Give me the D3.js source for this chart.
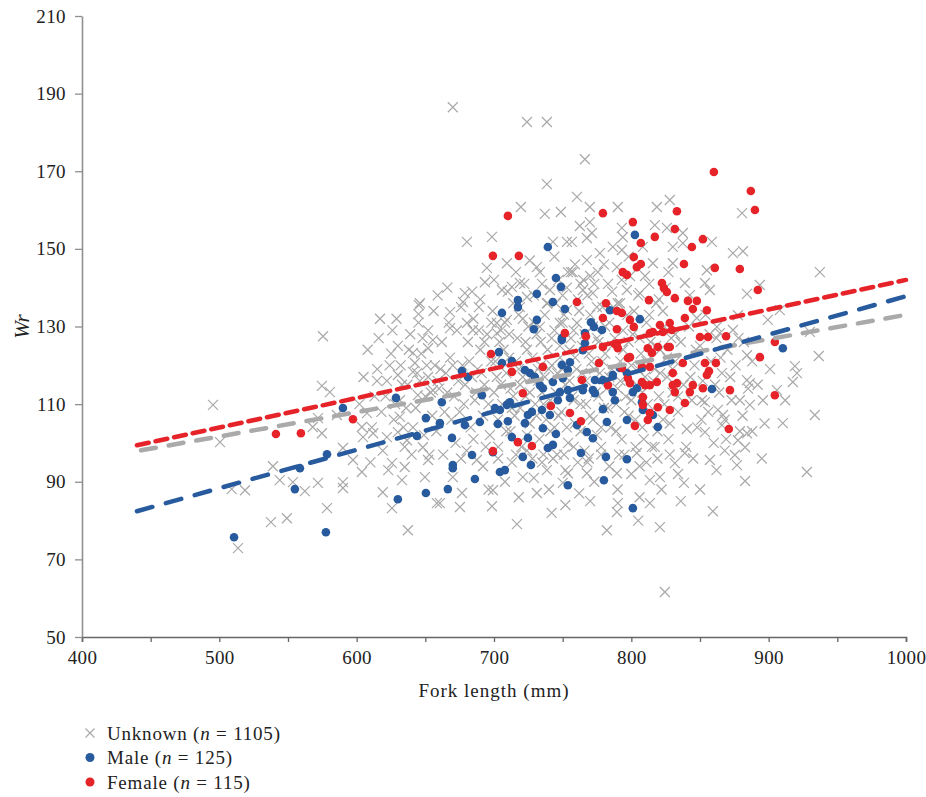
<!DOCTYPE html>
<html>
<head>
<meta charset="utf-8">
<script src="https://cdn.jsdelivr.net/npm/d3@7"></script>
<style>
  body { margin: 0; background: #fff; }
  text { font-family: "Liberation Serif", "DejaVu Serif", serif; fill: #222; }
</style>
</head>
<body>
<script>
// fork length (mm), Wr
const unknown = [
  [645.3,135.5],[645,133.2],[575.5,127.5],[495.4,109.8],[500.5,100.2],[574.7,114.7],[580.5,113.1],[614.8,116.0],
  [574.7,102.5],[568,104.1],[539,94.0],[544,90.4],[553.6,89.9],[562.3,87.6],[509,88.1],[518.7,87.8],[571.8,89.7],
  [590,89.9],[590,88.4],[578.4,83.2],[537.6,79.6],[549.2,80.6],[513.6,72.9],[597.3,95.6],[603.8,92.5],[590,98.7],
  [603.8,104.1],[604.6,101.5],[612,102.5],[619,87.3],[625.7,83.2],[637.3,77.5],[625.7,94.8],[635,93.8],[633,90.4],
  [649.7,91.2],[658.4,84.5],[652,95.6],[631.5,106.7],[630,102.8],[636.6,100.7],[648.2,98.9],[622,101.5],[641,123.2],
  [642.4,120.6],[652,124.4],[655.5,126.5],[630,117.5],[641,118.3],[652,117.0],[655.5,113.6],[644.6,112.3],[631.5,111.0],
  [571.8,106.4],[585.6,107.2],[607.5,107.7],
  [670,186.5],[724,182.7],[738.5,182.7],[766.2,173.1],[738.5,166.7],[760.4,163.4],[719.6,160.8],[737,159.0],[748.7,159.5],
  [769.8,160.8],[790.2,160.8],[818.6,160.8],[828,162.6],[680.3,151.8],[698.5,153.1],[762.5,155.9],[769.8,156.9],
  [771.3,154.1],[793.1,155.4],[793.8,153.0],[817.1,156.1],[825.9,155.4],[742.9,151.8],[753.1,151.8],[756.7,151.8],
  [767.6,152.8],[793.1,149.7],[786.5,150.5],[777.1,148.9],[709.4,146.3],[694.8,145.1],[693.4,141.4],[678.8,138.6],
  [677.4,136.3],[668,133.7],[668,129.6],[705.8,139.4],[713,140.2],[718.9,141.2],[709.4,131.7],[731.2,145.3],[733.4,144.0],
  [753.8,144.0],[757.4,144.0],[767.6,147.1],[775.6,144.0],[789.5,145.3],[815.7,146.3],[808.4,150.5],[724,137.6],
  [740.7,139.4],[764.7,139.4],[772,138.6],[796.8,139.4],[806.2,138.6],[830.2,146.3],[830.2,150.5],[718.9,135.0],
  [738.5,136.0],[753.1,134.2],[774.9,135.0],[791.7,136.0],[760.4,130.9],[748,130.9],[733.4,129.9],[684.6,129.1],
  [680.3,130.9],[702.1,130.9],[702.1,128.3],
  [880.6,159.2],[874,148.9],[881.3,149.4],[937.3,144.0],[837.5,154.1],[837.5,151.5],[858.6,151.8],[855,144.5],
  [839,141.2],[853.6,141.2],[857.2,139.4],[884.2,138.4],[893.6,140.7],[842.6,138.1],[899.4,131.7],[908.1,134.2],
  [877.6,132.9],[862.3,129.9],[864.5,128.3],[874,129.1],[930,128.6],[847.7,132.2],
  [936.5,122.4],[919.1,119.8],[920.6,118.0],[917.6,115.7],[933.6,107.2],[910.3,105.1],[884.2,116.2],[886.3,115.4],
  [879,111.0],[886.3,109.8],[895.8,111.0],[906,113.6],[884.2,102.5],[877.6,100.7],[882.8,98.9],[875.4,96.9],
  [876.9,94.3],[882.8,90.2],[857.2,95.6],[839,97.4],[838.3,89.7],[859.4,82.4],[853.6,102.8],[840.4,103.6],
  [927.8,92.5],[866,104.6],[863,108.5],[866.7,107.2],[853.6,110.5],[851.4,111.0],[884.2,122.6],
  [716.7,79.1],[782.2,77.5],[820.8,78.3],[824.4,61.6],[790.2,84.5],[789.5,82.2],[813.5,84.5],[813.5,90.4],
  [820.8,91.2],[804,97.4],[698.5,83.7],[675.2,83.5],[676.7,87.1],[699.2,87.8],[731.2,87.1],[750.1,89.7],
  [753.8,92.2],[767.6,92.2],[789.5,92.2],[660.6,84.5],[670,91.2],[687.5,95.6],[721,91.2],[738.5,93.0],[831.7,94.8],
  [662,126],[665,118],[668,122],[671,112],[673,129],[675,108],[677,120],[679,115],[681,126],[683,104],[685,132],
  [686,111],[688,119],[690,124],[692,107],[693,115],[695,128],[697,102],[698,121],[700,113],[660,114],[664,108],
  [667,131],[672,100],[676,135],[680,98],[684,117],[689,129],[694,99],[699,134],
  [702,117],[704,126],[706,110],[708,131],[709,103],[711,122],[712,114],[714,136],[715,107],[717,127],[718,119],
  [720,99],[721,132],[723,112],[724,124],[726,105],[727,117],[729,138],[730,110],[731,128],[733,101],[734,120],
  [735,113],[737,133],[738,106],[739,124],[703,96],[710,139],[716,97],[722,141],[728,96],[736,97],[705,129],
  [713,109],[719,115],[725,130],[732,116],[740,119],
  [741,111],[742,127],[744,104],[745,136],[746,118],[748,122],[749,108],[750,131],[752,115],[753,140],[754,100],
  [755,124],[757,112],[758,129],[759,105],[760,119],[762,134],[763,110],[764,125],[766,98],[767,116],[768,138],
  [770,107],[771,121],[772,130],[774,113],[775,102],[776,126],[777,118],[779,135],[780,109],[743,96],[747,142],
  [751,97],[756,144],[761,95],[765,142],[769,96],[773,141],[778,97],
  [781,123],[782,114],[784,131],[785,104],[786,119],[788,127],[789,110],[790,136],[792,116],[793,101],[794,124],
  [796,112],[797,133],[798,107],[800,120],[801,128],[803,99],[804,115],[805,138],[807,123],[808,104],[810,117],
  [811,131],[812,110],[814,126],[815,99],[817,119],[818,136],[820,112],[821,124],[823,106],[824,130],[826,117],
  [827,101],[829,127],[830,113],[783,141],[791,97],[799,143],[806,94],[813,141],[819,96],[825,140],
  [832,121],[834,108],[836,126],[838,115],[840,99],[842,130],[844,111],[846,120],[848,104],[850,125],[852,116],
  [854,133],[856,108],[858,121],[860,100],[862,127],[864,113],[866,118],[868,106],[870,124],[873,111],[876,120],
  [879,103],[882,126],[885,114],
  [621,112],[624,120],[627,106],[630,125],[633,115],[636,109],[639,128],[641,104],[644,118],[647,123],[650,112],
  [652,129],[655,107],[657,120],[659,116],[615,119],[618,108],[626,129],[635,99],[645,131],[653,97],
  [691,118],[693,126],[696,110],[698,131],[701,121],[703,106],[705,115],[707,124],[709,118],[711,128],[712,103],
  [714,112],[716,121],[718,133],[719,109],[721,117],[723,126],[724,102],[726,113],[728,122],[729,131],[731,107],
  [732,119],[734,126],[736,110],[737,117],[739,136],[741,103],[742,120],[744,129],[745,113],[747,107],[748,125],
  [750,119],[751,133],[753,104],[755,116],[756,127],[758,111],[759,122],[761,137],[763,103],[764,118],[766,128],
  [767,110],[769,123],[770,133],[772,106],[773,119],[775,127],[776,112],[778,104],[779,121],[781,130],[783,109],
  [784,117],[786,125],[787,135],[789,103],[790,114],[792,121],[794,129],[795,108],[797,117],[798,126],[800,111],
  [802,134],[803,106],[805,119],[806,127],[808,113],[809,101],[811,121],[813,133],[814,108],[816,116],[818,125],
  [819,103],[821,118],[823,134],[824,110],[826,122],[828,105],[830,119],[832,128],[834,112],
  [602,110],[605,117],[608,124],[611,104],[613,112],[616,127],[619,98],[622,116],[625,123],[628,110],[629,132],
  [632,120],[634,104],[637,115],[638,124],[640,97],[643,109],[646,116],[648,127],[649,102],[651,120],[654,113],
  [656,134],[658,103],[661,119],[663,97],[666,113],[669,106],[670,120],[674,116],[676,96],[678,110],[682,121],
  [685,101],[687,113],[689,135],[610,95],[617,132],[623,93],[646,136],[659,138],[666,140],
  [692,94],[696,88],[703,99],[708,90],[713,95],[718,86],[724,98],[729,91],[735,95],[740,88],[746,97],[752,93],
  [758,99],[762,87],[768,95],[773,90],[778,99],[784,94],[790,88],[795,97],[800,92],[806,86],[811,95],[817,99],
  [822,88],[828,97],[834,92],[845,96],[850,88],[862,93],[868,98],[752,84],[770,85],[742,82],[805,80],[836,85],
  [716,144],[726,147],[735,141],[744,148],[750,138],[759,146],[763,141],[770,143],[780,146],[786,139],[793,142],
  [798,148],[810,143],[820,137],[827,144],[700,142],[690,137],[684,139],
  [843,117],[847,124],[851,106],[857,128],[861,115],[865,122],[869,101],[872,117],[878,127],[881,107],[888,121],
  [892,115],[897,105],[901,119],[912,111],[895,96],[888,103]
];

const male = [
  [510.7,75.7],[577.6,77.0],[555,88.1],[558.7,93.5],[578.4,97.1],[590,109.0],[628.6,111.6],[650.4,106.4],
  [643.9,101.8],[630,85.5],[650.4,87.1],[802.6,153.6],[739.2,150.5],[745.1,142.5],[748.7,140.2],[731.2,138.4],
  [717.4,136.8],[717.4,135.0],[705.8,133.5],[742.9,136.3],[751.6,134.5],[731.2,131.7],[729,129.3],[784.4,134.2],
  [806.2,131.9],[770.6,131.1],[772.8,129.9],[778.6,129.1],[766.2,128.3],[749.4,127.0],[910.3,124.4],[858.7,113.9],
  [703.6,123.4],[705.8,120.6],[676.7,118.5],[681,117.0],[713,121.1],[722.5,118.8],[726.1,118.0],[729.8,117.0],
  [733.4,114.9],[735.6,114.1],[742.9,115.7],[749.4,120.1],[755.3,120.8],[753.8,118.8],[750.1,116.7],[748,113.1],
  [753.8,113.6],[746.5,111.0],[755.3,111.6],[764.7,113.6],[772,113.6],[773.5,112.8],[773.5,116.2],[779.3,116.2],
  [786.5,113.1],[788,111.0],[764.7,123.9],[766.2,125.7],[786.5,117.5],[791.6,119.3],[796.8,118.0],[801.1,113.1],
  [804,114.1],[807.7,110.5],[808.4,108.5],[815.7,107.2],[819.3,104.1],[796.8,105.9],[782.2,105.4],[779.3,108.7],
  [772,101.2],[767.6,102.8],[760.4,104.6],[745.1,102.3],[742.9,99.5],[739.2,98.7],[735.6,103.8],[740.7,107.2],
  [734.9,108.5],[727.6,108.0],[724.7,107.2],[722.5,105.1],[710.1,105.6],[702.8,104.9],[713,101.5],[724.7,101.3],
  [711.6,110.5],[709.4,109.8],[691.2,112.3],[700.7,109.0],[704.3,108.5],[689.7,105.4],[678.8,104.6],[669.4,101.3],
  [684,96.9],[670,94.3],[670,93.5],[686.1,90.7],[666.4,88.1],[699.2,97.6],[704.3,92.5],[707.9,93.0],[721,96.4],
  [726.9,94.3],[753.8,89.1],[763.3,97.4],[780,90.4],[781.5,96.4],[796.8,95.8],[801.1,83.2],[662,110.5],
  [660.6,105.1],[749.4,126.5]
];

const female = [
  [541.2,102.3],[559.4,102.5],[597.3,106.1],[710.1,158.5],[779.3,159.2],[801.1,156.9],[833.2,159.7],[831.7,155.1],
  [806.9,151.5],[817.1,153.1],[699.2,148.2],[718.1,148.2],[801.8,147.9],[806.9,146.1],[804,145.3],[793.8,144.0],
  [796.8,143.3],[822.3,141.2],[825.9,138.9],[823.7,139.9],[812.8,136.8],[831.7,137.3],[760.4,136.3],[781.5,136.0],
  [789.5,134.0],[793.1,133.5],[779.3,132.2],[799,131.7],[801.8,129.9],[789.5,129.3],[820.8,130.4],[828,130.9],
  [829.5,129.1],[815.7,128.6],[751.6,128.3],[766.9,127.5],[890,160.0],[852.1,152.5],[844.1,150.5],[838.3,146.1],
  [860.8,145.1],[879,144.8],[892.1,139.4],[841.2,136.6],[847.7,136.6],[844.8,134.5],[855,134.2],[839,132.2],
  [813.5,128.3],[823,128.6],[850,127.3],[855.8,127.3],[869,127.5],[893.6,122.1],[904.5,126.0],[779.3,124.7],
  [788,125.5],[790.2,124.4],[799,122.1],[812,124.4],[815,123.2],[819.3,124.7],[828,124.7],[837.5,120.6],
  [853.6,120.6],[861.6,120.6],[807.7,119.6],[813.5,119.6],[793.1,119.3],[797.5,116.7],[799,115.4],[807.7,115.7],
  [810,114.9],[813.5,114.9],[833.2,115.4],[831.7,113.1],[842.6,113.1],[852.1,114.1],[871.8,113.6],[818.6,115.7],
  [904.5,112.3],[860.1,169.8],[887,164.9],[856.5,118.5],[855,117.5],[844.8,114.9],[839,110.3],[871,103.6],
  [697.8,122.9],[713,118.3],[721,112.8],[735.6,119.6],[741.4,109.5],[755.3,107.7],[763.3,105.6],[764,116.2],
  [776.4,120.6],[783,114.9],[797.5,121.9],[789.5,125.7],[808.4,111.8],[819.3,109.2],[808.4,109.8],[813.5,107.7],
  [812,105.9],[802.6,104.4],[828,108.5],[826.6,124.7],[830.2,118.0],[830.2,114.9],[717.4,100.2],[727.6,99.2],
  [699.2,97.9]
];

// fitted trend lines, [start, end] in data units
const unknownTrend = [[443, 98.1], [1000, 133]];
const maleTrend = [[440, 82.4], [1000, 137.8]];
const femaleTrend = [[440, 99.4], [1000, 142]];

const xTicks = d3.range(400, 1001, 50);
const yTicks = d3.range(50, 211, 20);

const legendItems = [
  { label: "Unknown", n: 1105, kind: "cross" },
  { label: "Male", n: 125, kind: "male" },
  { label: "Female", n: 115, kind: "female" }
];

const grey = "#a9a9a9", blue = "#275b9e", red = "#e52329";

const width = 926, height = 797;

const svg = d3.select("body").append("svg")
    .attr("width", width)
    .attr("height", height);

const x = d3.scaleLinear().domain([400, 1000]).range([82, 906]);
const y = d3.scaleLinear().domain([50, 210]).range([637, 16]);

// axes
const xAxis = svg.append("g")
    .attr("transform", `translate(0,${y(50)})`)
    .call(d3.axisBottom(x).tickValues(xTicks).tickSize(5).tickPadding(9)
      .tickFormat(d => d % 100 === 0 ? d : ""));
xAxis.select(".domain").attr("stroke", "#666").attr("stroke-width", 1.6);
xAxis.selectAll(".tick line").attr("stroke", "#666").attr("stroke-width", 1.3);
xAxis.selectAll("text").attr("font-size", 19).attr("fill", "#222")
    .attr("font-family", "Liberation Serif, serif").attr("letter-spacing", 0.4);

const yAxis = svg.append("g")
    .attr("transform", `translate(${x(400)},0)`)
    .call(d3.axisLeft(y).tickValues(yTicks).tickSize(7).tickPadding(9).tickSizeOuter(0));
yAxis.select(".domain").attr("stroke", "#8f8f8f").attr("stroke-width", 1.6);
yAxis.selectAll(".tick line").attr("stroke", "#8f8f8f").attr("stroke-width", 1.3);
yAxis.selectAll("text").attr("font-size", 19).attr("fill", "#222")
    .attr("font-family", "Liberation Serif, serif").attr("letter-spacing", 0.4);

svg.append("text")
    .attr("x", x(700)).attr("y", 697)
    .attr("text-anchor", "middle")
    .attr("font-size", 19)
    .attr("letter-spacing", 1)
    .text("Fork length (mm)");

svg.append("text")
    .attr("transform", `translate(29,${y(130)}) rotate(-90)`)
    .attr("text-anchor", "middle")
    .attr("font-size", 21)
    .attr("font-style", "italic")
    .text("Wr");

// points
const cross = (g, s) => g.append("path")
    .attr("d", `M${-s},${-s}L${s},${s}M${-s},${s}L${s},${-s}`)
    .attr("stroke", grey)
    .attr("stroke-width", 1.2)
    .attr("fill", "none");

svg.append("g")
  .selectAll("g")
  .data(unknown)
  .enter().append("g")
    .attr("transform", d => `translate(${x(d[0])},${y(d[1])})`)
    .each(function() { cross(d3.select(this), 5); });

svg.append("g")
  .selectAll("circle")
  .data(male)
  .enter().append("circle")
    .attr("cx", d => x(d[0]))
    .attr("cy", d => y(d[1]))
    .attr("r", 4.3)
    .attr("fill", blue);

svg.append("g")
  .selectAll("circle")
  .data(female)
  .enter().append("circle")
    .attr("cx", d => x(d[0]))
    .attr("cy", d => y(d[1]))
    .attr("r", 4.3)
    .attr("fill", red);

// trend lines
const line = d3.line().x(d => x(d[0])).y(d => y(d[1]));
const trends = [
  { data: unknownTrend, color: "#aaaaaa", dash: "15,13" },
  { data: maleTrend, color: blue, dash: "16,14" },
  { data: femaleTrend, color: red, dash: "12,7" }
];
svg.append("g")
  .selectAll("path")
  .data(trends)
  .enter().append("path")
    .attr("d", d => line(d.data))
    .attr("fill", "none")
    .attr("stroke", d => d.color)
    .attr("stroke-width", 4.5)
    .attr("stroke-linecap", "round")
    .attr("stroke-dasharray", d => d.dash);

// legend
const legend = svg.append("g")
  .selectAll("g")
  .data(legendItems)
  .enter().append("g")
    .attr("transform", (d, i) => `translate(90,${733 + i * 24.5})`);

legend.each(function(d) {
  const g = d3.select(this);
  if (d.kind === "cross") cross(g, 4.5);
  else g.append("circle").attr("r", 4.5).attr("fill", d.kind === "male" ? blue : red);
});

const lt = legend.append("text")
    .attr("x", 17).attr("y", 6.5)
    .attr("font-size", 19)
    .attr("letter-spacing", 0.8);
lt.append("tspan").text(d => d.label + " (");
lt.append("tspan").attr("font-style", "italic").text("n");
lt.append("tspan").text(d => " = " + d.n + ")");
</script>
</body>
</html>
